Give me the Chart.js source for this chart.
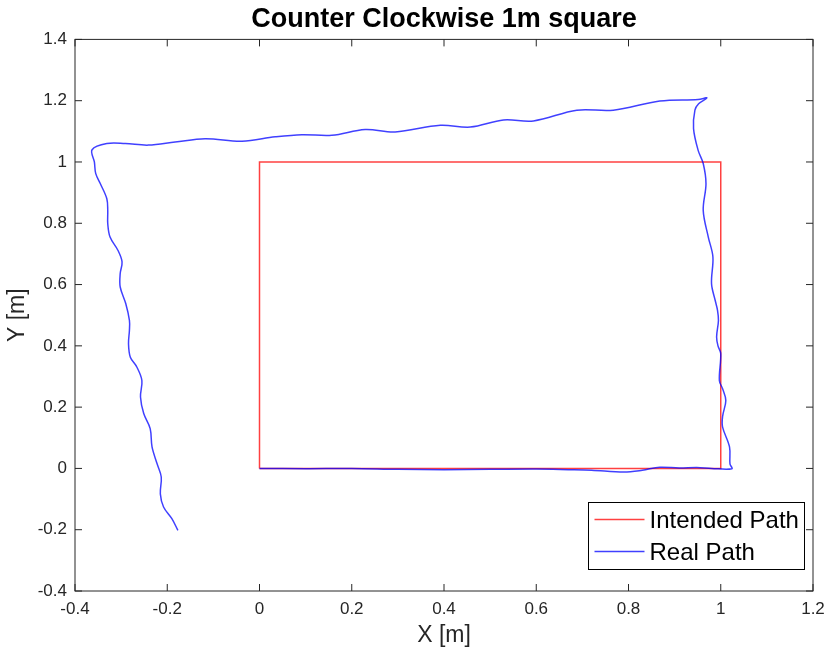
<!DOCTYPE html>
<html>
<head>
<meta charset="utf-8">
<script src="https://cdn.jsdelivr.net/npm/chart.js@4"></script>
<style>
  html, body { margin: 0; padding: 0; background: #fff; }
  canvas { display: block; }
</style>
</head>
<body>
<canvas id="pathChart" width="827" height="653"></canvas>
<script>
// intended square
const intendedX = [0, 1, 1, 0, 0];
const intendedY = [0, 0, 1, 1, 0];

// measured path, counter clockwise from the origin
const realX = [
  0, 0.1, 0.2, 0.3, 0.4, 0.5, 0.6, 0.67, 0.72, 0.79, 0.83, 0.868, 0.91, 0.948, 0.98, 1.024,
  1.020, 1.019, 1.004, 1.004, 1.011, 1.004, 0.997, 1.000, 0.994, 0.991, 0.995, 0.993, 0.988, 0.980,
  0.983, 0.973, 0.962, 0.968, 0.962, 0.951, 0.941, 0.944, 0.952, 0.970,
  0.951, 0.868, 0.767, 0.688, 0.594, 0.529, 0.457, 0.392, 0.294, 0.229, 0.157, 0.092, 0.034,
  -0.038, -0.118, -0.183, -0.241, -0.291, -0.331, -0.363,
  -0.358, -0.355, -0.345, -0.331, -0.329, -0.329, -0.324, -0.307, -0.298, -0.302, -0.302, -0.290,
  -0.282, -0.282, -0.284, -0.280, -0.266, -0.255, -0.258, -0.251, -0.237, -0.233, -0.222, -0.213,
  -0.215, -0.208, -0.190, -0.177
];
const realY = [
  0, -0.001, 0.0, -0.003, -0.004, -0.003, -0.002, -0.004, -0.006, -0.012, -0.006, 0.004, 0.001, 0.003, 0.0, -0.001,
  0.015, 0.070, 0.135, 0.170, 0.222, 0.260, 0.287, 0.374, 0.400, 0.429, 0.483, 0.516, 0.548, 0.603,
  0.690, 0.755, 0.842, 0.929, 0.995, 1.038, 1.109, 1.169, 1.190, 1.209,
  1.204, 1.199, 1.169, 1.169, 1.134, 1.137, 1.114, 1.120, 1.098, 1.106, 1.087, 1.089, 1.082,
  1.068, 1.076, 1.065, 1.055, 1.060, 1.060, 1.040,
  1.000, 0.962, 0.929, 0.880, 0.842, 0.799, 0.755, 0.712, 0.674, 0.636, 0.592, 0.538,
  0.483, 0.451, 0.407, 0.363, 0.331, 0.287, 0.233, 0.179, 0.130, 0.070, 0.015, -0.028,
  -0.083, -0.126, -0.164, -0.202
];

const xTicks = [-0.4, -0.2, 0, 0.2, 0.4, 0.6, 0.8, 1, 1.2];
const yTicks = [-0.4, -0.2, 0, 0.2, 0.4, 0.6, 0.8, 1, 1.2, 1.4];

const axisColor = "#262626";
const fontFamily = "'Liberation Sans', Arial, sans-serif";
const redLine = "rgba(255,0,0,0.75)";
const blueLine = "rgba(0,0,255,0.75)";

const toPoints = (xs, ys) => xs.map((x, i) => ({ x: x, y: ys[i] }));

// matlab style box, inside ticks and legend
const matlabFrame = {
  id: "matlabFrame",
  afterDatasetsDraw(chart) {
    const { ctx, chartArea: a, scales } = chart;
    const len = 7;
    ctx.save();
    ctx.strokeStyle = axisColor;
    ctx.lineWidth = 1;
    ctx.beginPath();
    xTicks.forEach((v) => {
      const px = scales.x.getPixelForValue(v);
      ctx.moveTo(px, a.bottom); ctx.lineTo(px, a.bottom - len);
      ctx.moveTo(px, a.top); ctx.lineTo(px, a.top + len);
    });
    yTicks.forEach((v) => {
      const py = scales.y.getPixelForValue(v);
      ctx.moveTo(a.left, py); ctx.lineTo(a.left + len, py);
      ctx.moveTo(a.right, py); ctx.lineTo(a.right - len, py);
    });
    ctx.stroke();
    ctx.strokeRect(a.left, a.top, a.right - a.left, a.bottom - a.top);

    // legend
    const lw = 216, lh = 67;
    const lx = Math.round(a.right - 9 - lw) + 0.5;
    const ly = Math.round(a.bottom - 22 - lh) + 0.5;
    ctx.fillStyle = "#fff";
    ctx.fillRect(lx, ly, lw, lh);
    ctx.strokeStyle = "#000";
    ctx.strokeRect(lx, ly, lw, lh);
    const order = [1, 0];
    ctx.font = "24px " + fontFamily;
    ctx.textBaseline = "middle";
    order.forEach((di, row) => {
      const ds = chart.data.datasets[di];
      const cy = ly + 17 + row * 32;
      ctx.strokeStyle = ds.borderColor;
      ctx.lineWidth = 1.5;
      ctx.beginPath();
      ctx.moveTo(lx + 6, cy); ctx.lineTo(lx + 56, cy);
      ctx.stroke();
      ctx.fillStyle = "#000";
      ctx.fillText(ds.label, lx + 61, cy + 2);
    });
    ctx.restore();
  }
};

new Chart(document.getElementById("pathChart"), {
  type: "scatter",
  data: {
    datasets: [
      {
        label: "Real Path",
        data: toPoints(realX, realY),
        showLine: true,
        borderColor: blueLine,
        borderWidth: 1.5,
        pointRadius: 0,
        tension: 0.35,
        order: 0,
      },
      {
        label: "Intended Path",
        data: toPoints(intendedX, intendedY),
        showLine: true,
        borderColor: redLine,
        borderWidth: 1.5,
        pointRadius: 0,
        tension: 0,
        order: 1,
      },
    ],
  },
  options: {
    responsive: false,
    animation: false,
    layout: { padding: { left: 0, right: 14, top: 0, bottom: 0 } },
    plugins: {
      legend: { display: false },
      tooltip: { enabled: false },
      title: {
        display: true,
        text: "Counter Clockwise 1m square",
        fullSize: false,
        color: "#000",
        font: { family: fontFamily, size: 27, weight: "bold" },
        padding: { top: 3, bottom: 4 },
      },
    },
    scales: {
      x: {
        type: "linear",
        min: -0.4,
        max: 1.2,
        afterBuildTicks: (s) => { s.ticks = xTicks.map((v) => ({ value: v })); },
        afterFit: (s) => { s.height = 62; s.paddingLeft = 0; s.paddingRight = 0; },
        grid: { display: false, drawTicks: false },
        border: { display: false },
        ticks: {
          padding: 8,
          color: axisColor,
          maxRotation: 0,
          autoSkip: false,
          font: { family: fontFamily, size: 17 },
          callback: (v) => String(v),
        },
        title: {
          display: true,
          text: "X [m]",
          color: axisColor,
          font: { family: fontFamily, size: 23 },
          padding: { top: 0, bottom: 4 },
        },
      },
      y: {
        type: "linear",
        min: -0.4,
        max: 1.4,
        afterBuildTicks: (s) => { s.ticks = yTicks.map((v) => ({ value: v })); },
        afterFit: (s) => { s.width = 75; s.paddingTop = 0; s.paddingBottom = 0; },
        grid: { display: false, drawTicks: false },
        border: { display: false },
        ticks: {
          padding: 8,
          color: axisColor,
          autoSkip: false,
          font: { family: fontFamily, size: 17 },
          callback: (v) => String(v),
        },
        title: {
          display: true,
          text: "Y [m]",
          color: axisColor,
          font: { family: fontFamily, size: 23 },
          padding: { top: 4, bottom: 0 },
        },
      },
    },
  },
  plugins: [matlabFrame],
});
</script>
</body>
</html>
